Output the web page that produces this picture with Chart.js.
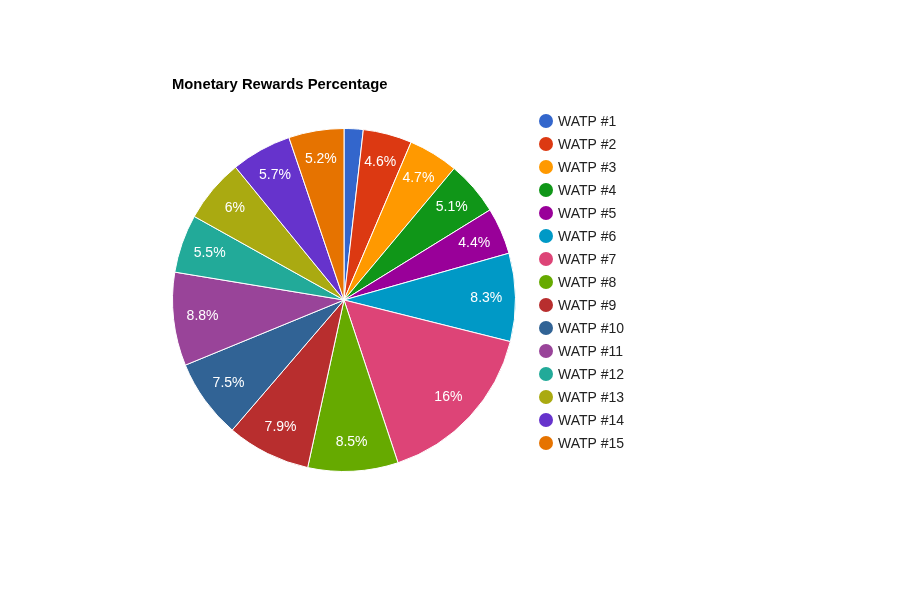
<!DOCTYPE html>
<html>
<head>
<meta charset="utf-8">
<script src="https://cdn.jsdelivr.net/npm/chart.js@4/dist/chart.umd.min.js"></script>
<style>
  html, body { margin: 0; padding: 0; background: #fff; }
  #wrap { position: relative; width: 900px; height: 600px; }
</style>
</head>
<body>
<div id="wrap"><canvas id="pie" width="900" height="600"></canvas></div>
<script>
// chart data
const title = 'Monetary Rewards Percentage';
const categories = [
  'WATP #1', 'WATP #2', 'WATP #3', 'WATP #4', 'WATP #5',
  'WATP #6', 'WATP #7', 'WATP #8', 'WATP #9', 'WATP #10',
  'WATP #11', 'WATP #12', 'WATP #13', 'WATP #14', 'WATP #15'
];
const shares = [1.8, 4.6, 4.7, 5.1, 4.4, 8.3, 16, 8.5, 7.9, 7.5, 8.8, 5.5, 6, 5.7, 5.2];
const colors = [
  '#3366cc', '#dc3912', '#ff9900', '#109618', '#990099',
  '#0099c6', '#dd4477', '#66aa00', '#b82e2e', '#316395',
  '#994499', '#22aa99', '#aaaa11', '#6633cc', '#e67300'
];

const FONT = 'Arial, "Liberation Sans", sans-serif';

// percent text inside each slice
const sliceLabels = {
  id: 'sliceLabels',
  afterDatasetsDraw(chart) {
    const ctx = chart.ctx;
    const meta = chart.getDatasetMeta(0);
    const total = shares.reduce((a, b) => a + b, 0);
    ctx.save();
    ctx.fillStyle = '#fff';
    ctx.font = '14px ' + FONT;
    ctx.textAlign = 'center';
    ctx.textBaseline = 'middle';
    meta.data.forEach((arc, i) => {
      const pct = shares[i] / total * 100;
      if (pct < 3) return;
      const mid = (arc.startAngle + arc.endAngle) / 2;
      const r = arc.outerRadius * 0.83;
      const x = arc.x + Math.cos(mid) * r;
      const y = arc.y + Math.sin(mid) * r;
      ctx.fillText(String(parseFloat(shares[i].toFixed(1))) + '%', x, y);
    });
    ctx.restore();
  }
};

// title + legend, google style
const sideLegend = {
  id: 'sideLegend',
  afterDraw(chart) {
    const ctx = chart.ctx;
    ctx.save();
    ctx.fillStyle = '#000';
    ctx.font = 'bold 14.8px ' + FONT;
    ctx.textAlign = 'left';
    ctx.textBaseline = 'alphabetic';
    ctx.fillText(title, 172, 89);

    ctx.font = '14px ' + FONT;
    ctx.textBaseline = 'middle';
    categories.forEach((name, i) => {
      const y = 121 + i * 23;
      ctx.beginPath();
      ctx.arc(546, y, 7, 0, Math.PI * 2);
      ctx.fillStyle = colors[i];
      ctx.fill();
      ctx.fillStyle = '#222';
      ctx.fillText(name, 558, y + 1);
    });
    ctx.restore();
  }
};

new Chart(document.getElementById('pie').getContext('2d'), {
  type: 'pie',
  data: {
    labels: categories,
    datasets: [{
      data: shares,
      backgroundColor: colors,
      borderColor: '#fff',
      borderWidth: 1
    }]
  },
  options: {
    responsive: false,
    animation: false,
    layout: { padding: { left: 172, right: 384, top: 128, bottom: 128 } },
    plugins: {
      legend: { display: false },
      tooltip: { enabled: false }
    }
  },
  plugins: [sliceLabels, sideLegend]
});
</script>
</body>
</html>
